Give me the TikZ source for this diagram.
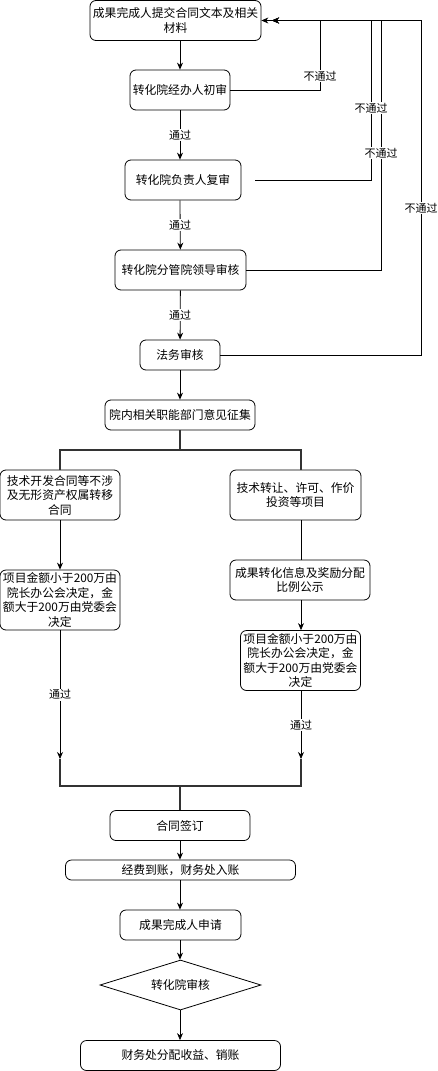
\documentclass[tikz,border=0pt]{standalone}
\usepackage{fontspec}
\setmainfont{Noto Sans CJK SC}
\usetikzlibrary{arrows.meta, shapes.geometric}

\tikzset{
    box/.style={draw, rounded corners=6pt, align=center, inner sep=0pt, line width=0.8pt, font=\fontsize{11.8}{14.5}\selectfont},
    lbl/.style={fill=white, inner sep=1pt, font=\fontsize{11}{13}\selectfont},
    arr/.style={line width=0.8pt, -{Stealth[length=7pt, width=6pt]}},
    bar/.style={line width=2pt, draw=black!80}
}

\begin{document}
\begin{tikzpicture}[x=1pt, y=-1pt]
        \useasboundingbox (0, 0) rectangle (438, 1071);
        % Review chain
        \node [box, minimum width=171pt, minimum height=40pt] (submit) at (175.5, 20.5) {成果完成人提交合同文本及相关\\材料};
        \node [box, minimum width=100pt, minimum height=40pt] (first) at (180, 90) {转化院经办人初审};
        \node [box, minimum width=116pt, minimum height=40pt] (second) at (183, 180) {转化院负责人复审};
        \node [box, minimum width=131pt, minimum height=40pt] (leader) at (180.5, 270) {转化院分管院领导审核};
        \node [box, minimum width=80pt, minimum height=30pt] (legal) at (180, 355) {法务审核};
        \node [box, minimum width=150pt, minimum height=30pt] (collect) at (180, 415) {院内相关职能部门意见征集};
        % Two branches
        \node [box, minimum width=120pt, minimum height=50pt] (lopt) at (60, 495) {技术开发合同等不涉\\及无形资产权属转移\\合同};
        \node [box, minimum width=131pt, minimum height=50pt] (ropt) at (295.5, 495) {技术转让、许可、作价\\投资等项目};
        \node [box, minimum width=120pt, minimum height=60pt] (ldecide) at (60, 600) {项目金额小于200万由\\院长办公会决定，金\\额大于200万由党委会\\决定};
        \node [box, minimum width=140pt, minimum height=40pt] (rinfo) at (300, 580) {成果转化信息及奖励分配\\比例公示};
        \node [box, minimum width=120pt, minimum height=60pt] (rdecide) at (300.5, 660.5) {项目金额小于200万由\\院长办公会决定，金\\额大于200万由党委会\\决定};
        % Closing chain
        \node [box, minimum width=140pt, minimum height=30pt] (sign) at (180, 825.5) {合同签订};
        \node [box, minimum width=230pt, minimum height=20pt] (funds) at (180.5, 870) {经费到账，财务处入账};
        \node [box, minimum width=121pt, minimum height=30pt] (apply) at (180.5, 925) {成果完成人申请};
        \node [box, diamond, aspect=3.2, rounded corners=0pt, minimum width=161pt, minimum height=50pt] (audit) at (180.5, 985) {转化院审核};
        \node [box, minimum width=200pt, minimum height=30pt] (pay) at (180.5, 1055.5) {财务处分配收益、销账};
        % Helper points
        \coordinate (tip2) at (272, 20.5);
        \coordinate (back1) at (320, 20.5);
        \coordinate (back2) at (371, 20.5);
        \coordinate (back3) at (381, 20.5);
        \coordinate (back4) at (421, 20.5);
        \coordinate (gap) at (255, 180);
        \coordinate (branch) at (180, 450);
        \coordinate (rcol) at (301, 450);
        \coordinate (joinL) at (60, 759);
        \coordinate (joinR) at (301, 759);
        \coordinate (join) at (180, 786);
        % Pass arrows
        \draw [arr] (first.north |- submit.south) -- (first);
        \draw [arr] (first) -- node [lbl] {通过} (first |- second.north);
        \draw [arr] (first |- second.south) -- node [lbl] {通过} (leader);
        \draw [arr] (leader) -- node [lbl] {通过} (legal);
        \draw [arr] (legal) -- (collect);
        % Reject arrows
        \draw [arr] (first.east) -| (back1) -- (submit.east);
        \draw [arr] (gap) -| (back2) -- (tip2);
        \draw [arr] (leader.east) -| (back3) -- (tip2);
        \draw [arr] (legal.east) -| (back4) -- (tip2);
        \node [lbl] (no1) at (320, 76) {不通过};
        \node [lbl] (no2) at (371, 108) {不通过};
        \node [lbl] (no3) at (381, 153) {不通过};
        \node [lbl] (no4) at (421, 208) {不通过};
        % Split
        \draw [bar] (collect) -- (branch);
        \draw [bar] (lopt.north) -- (lopt |- branch) -- (branch) -- (rcol) -- (rcol |- ropt.north);
        \draw [arr] (lopt) -- (ldecide);
        \draw [line width=0.8pt] (rcol |- ropt.south) -- (rcol |- rinfo.north);
        \draw [arr] (rcol |- rinfo.south) -- (rcol |- rdecide.north);
        \draw [arr] (ldecide) -- node [lbl] {通过} (joinL);
        \draw [arr] (rcol |- rdecide.south) -- node [lbl] {通过} (joinR);
        % Merge
        \draw [bar] (joinL) -- (joinL |- join) -- (joinR |- join) -- (joinR);
        \draw [bar] (join) -- (sign);
        \draw [arr] (sign) -- (funds.north -| sign);
        \draw [arr] (funds.south -| sign) -- (apply.north -| sign);
        \draw [arr] (apply.south -| sign) -- (audit.north -| sign);
        \draw [arr] (audit.south -| sign) -- (pay.north -| sign);
    \end{tikzpicture}
\end{document}
